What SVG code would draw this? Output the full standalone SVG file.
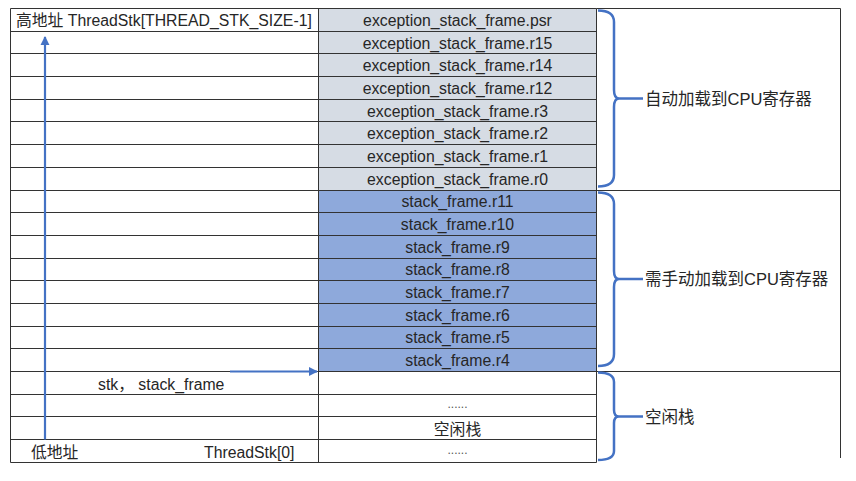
<svg xmlns="http://www.w3.org/2000/svg" width="856" height="481" viewBox="0 0 856 481">
<defs>
<style>
.t{font-family:"Liberation Sans","Noto Sans CJK SC",sans-serif;font-size:15.8px;fill:#262626}
.c{text-anchor:middle}
.lb{font-size:16.5px}
.g{fill:#D6DCE4}
.b{fill:#8EA9DB}
.ln{stroke:#333;stroke-width:1;fill:none}
.br{stroke:#4472C4;stroke-width:2.5;fill:none;stroke-linejoin:round}
.ar{stroke:#4472C4;stroke-width:2.2;fill:none}
.dot{font-family:"Liberation Sans",sans-serif;font-size:12px;fill:#555;text-anchor:middle}
</style>
<marker id="ah" viewBox="0 0 10 10" refX="9" refY="5" markerWidth="4.2" markerHeight="4.2" orient="auto" markerUnits="strokeWidth">
<path d="M0,0 L10,5 L0,10 z" fill="#4472C4"/>
</marker>
</defs>
<rect width="856" height="481" fill="#fff"/>
<g id="fills">
<rect class="g" x="318.5" y="8.5" width="278" height="181.5"/>
<rect class="b" x="318.5" y="190" width="278" height="181.5"/>
</g>
<g id="grid">
<path class="ln" d="M10.5,8.5H596.5 M10.5,31.5H596.5 M10.5,53.5H596.5 M10.5,76.5H596.5 M10.5,99.5H596.5 M10.5,121.5H596.5 M10.5,144.5H596.5 M10.5,167.5H596.5 M10.5,190.5H596.5 M10.5,212.5H596.5 M10.5,235.5H596.5 M10.5,258.5H596.5 M10.5,280.5H596.5 M10.5,303.5H596.5 M10.5,326.5H596.5 M10.5,348.5H596.5 M10.5,371.5H596.5 M10.5,394.5H596.5 M10.5,416.5H596.5 M10.5,439.5H596.5 M10.5,462.5H596.5"/>
<path class="ln" d="M10.5,8.5V462.5 M318.5,8.5V462.5 M596.5,8.5V462.5"/>
<path class="ln" d="M596.5,8.5H840.5 M596.5,190.5H840.5 M596.5,371.5H840.5 M840.5,8.5V458"/>
</g>
<g id="left-col">
<text class="t" x="16" y="26">高地址 ThreadStk[THREAD_STK_SIZE-1]</text>
<text class="t" x="98" y="390">stk， stack_frame</text>
<text class="t" x="31" y="458">低地址</text>
<text class="t" x="204" y="458">ThreadStk[0]</text>
</g>
<g id="mid-col">
<text class="t c" x="457.5" y="26">exception_stack_frame.psr</text>
<text class="t c" x="457.5" y="48.5">exception_stack_frame.r15</text>
<text class="t c" x="457.5" y="71">exception_stack_frame.r14</text>
<text class="t c" x="457.5" y="94">exception_stack_frame.r12</text>
<text class="t c" x="457.5" y="116.5">exception_stack_frame.r3</text>
<text class="t c" x="457.5" y="139">exception_stack_frame.r2</text>
<text class="t c" x="457.5" y="162">exception_stack_frame.r1</text>
<text class="t c" x="457.5" y="184.5">exception_stack_frame.r0</text>
<text class="t c" x="457.5" y="207">stack_frame.r11</text>
<text class="t c" x="457.5" y="230">stack_frame.r10</text>
<text class="t c" x="457.5" y="252.5">stack_frame.r9</text>
<text class="t c" x="457.5" y="275">stack_frame.r8</text>
<text class="t c" x="457.5" y="298">stack_frame.r7</text>
<text class="t c" x="457.5" y="320.5">stack_frame.r6</text>
<text class="t c" x="457.5" y="343">stack_frame.r5</text>
<text class="t c" x="457.5" y="366">stack_frame.r4</text>
<text class="dot" x="457.5" y="408">......</text>
<text class="t c" x="457.5" y="435">空闲栈</text>
<text class="dot" x="457.5" y="453.5">......</text>
</g>
<g id="connectors">
<path class="ar" d="M45,439.5 V37" marker-end="url(#ah)"/>
<path class="ar" d="M230,371.5 H317" marker-end="url(#ah)"/>
<path class="br" d="M598,10.5 Q614,10.5 614,22 V90 Q614,98.5 619,98.5 Q614,98.5 614,107 V175 Q614,186.5 598,186.5 M617,98.5 H643"/>
<path class="br" d="M598,192.5 Q614,192.5 614,204 V271 Q614,279 619,279 Q614,279 614,287 V354 Q614,366 598,366 M617,279 H643"/>
<path class="br" d="M598,372.5 Q614,372.5 614,382 V410 Q614,416.5 619,416.5 Q614,416.5 614,423 V451 Q614,460 598,460 M617,416.5 H643"/>
</g>
<g id="labels">
<text class="t lb" x="645" y="104.5">自动加载到CPU寄存器</text>
<text class="t lb" x="645" y="285">需手动加载到CPU寄存器</text>
<text class="t lb" x="645" y="422.5">空闲栈</text>
</g>
</svg>
